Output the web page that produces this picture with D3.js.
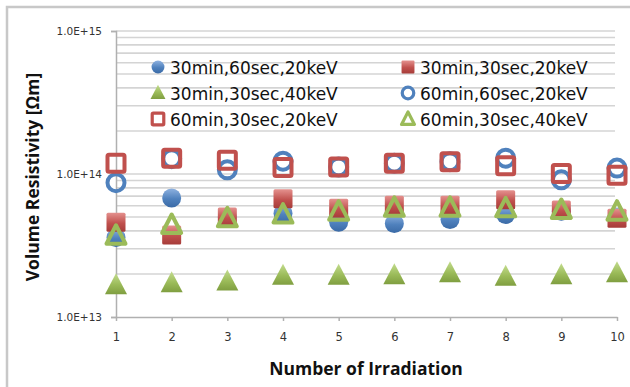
<!DOCTYPE html>
<html>
<head>
<meta charset="utf-8">
<script src="https://cdn.jsdelivr.net/npm/d3@7"></script>
<style>
  html, body { margin: 0; padding: 0; background: #fff; }
  svg { display: block; }
</style>
</head>
<body>
<svg id="chart" width="630" height="387"></svg>
<script>
// Irradiation count on the x axis
const irradiations = [1, 2, 3, 4, 5, 6, 7, 8, 9, 10];

// Volume resistivity [Ωm] per condition
const s30m60s20k = [3.6e13, 6.8e13, 5.0e13, 5.3e13, 4.6e13, 4.5e13, 4.8e13, 5.2e13, 5.5e13, 5.0e13];
const s30m30s20k = [4.6e13, 3.75e13, 5.0e13, 6.7e13, 5.75e13, 6.05e13, 6.05e13, 6.6e13, 5.6e13, 4.9e13];
const s30m30s40k = [1.67e13, 1.72e13, 1.77e13, 1.94e13, 1.94e13, 1.96e13, 2.02e13, 1.91e13, 1.96e13, 2.02e13];
const s60m60s20k = [8.7e13, 1.28e14, 1.07e14, 1.23e14, 1.12e14, 1.19e14, 1.22e14, 1.29e14, 9.1e13, 1.1e14];
const s60m30s20k = [1.19e14, 1.29e14, 1.25e14, 1.11e14, 1.12e14, 1.19e14, 1.22e14, 1.14e14, 1.01e14, 9.8e13];
const s60m30s40k = [3.7e13, 4.4e13, 4.9e13, 5.2e13, 5.45e13, 5.8e13, 5.8e13, 5.75e13, 5.6e13, 5.45e13];

const seriesNames = [
  "30min,60sec,20keV", "30min,30sec,20keV", "30min,30sec,40keV",
  "60min,60sec,20keV", "60min,30sec,20keV", "60min,30sec,40keV"
];
const yTickLabels = ["1.0E+13", "1.0E+14", "1.0E+15"];

const BLUE = "#4f81bd", RED = "#c0504d", GREEN = "#9bbb59";

const series = [
  { name: seriesNames[0], values: s30m60s20k, shape: "circle",   color: BLUE,  filled: true },
  { name: seriesNames[1], values: s30m30s20k, shape: "square",   color: RED,   filled: true },
  { name: seriesNames[2], values: s30m30s40k, shape: "triangle", color: GREEN, filled: true },
  { name: seriesNames[3], values: s60m60s20k, shape: "circle",   color: BLUE,  filled: false },
  { name: seriesNames[4], values: s60m30s20k, shape: "square",   color: RED,   filled: false },
  { name: seriesNames[5], values: s60m30s40k, shape: "triangle", color: GREEN, filled: false }
];

const svg = d3.select("#chart");
const plotL = 116, plotR = 617, plotT = 31, plotB = 317;

const x = d3.scaleLinear().domain([1, 10]).range([plotL, plotR]);
const y = d3.scaleLog().domain([1e13, 1e15]).range([plotB, plotT]);

// outer chart frame
svg.append("rect")
  .attr("x", 7).attr("y", 7).attr("width", 640).attr("height", 400)
  .attr("fill", "none").attr("stroke", "#c8c8c8").attr("stroke-width", 2.5);

// shading for filled markers
const defs = svg.append("defs");
[["gBlue", BLUE, "#8fb2e0", "#3a6aa6"], ["gRed", RED, "#e4918e", "#a63c39"], ["gGreen", GREEN, "#c3dc8e", "#7f9e40"]]
  .forEach(([id, base, light, dark]) => {
    const g = defs.append("linearGradient").attr("id", id)
      .attr("x1", 0).attr("y1", 0).attr("x2", 0).attr("y2", 1);
    g.append("stop").attr("offset", "0%").attr("stop-color", light);
    g.append("stop").attr("offset", "55%").attr("stop-color", base);
    g.append("stop").attr("offset", "100%").attr("stop-color", dark);
  });
const gradFor = { [BLUE]: "url(#gBlue)", [RED]: "url(#gRed)", [GREEN]: "url(#gGreen)" };

// gridlines at every 1..9 × decade
const gridVals = [];
for (let e = 13; e <= 14; e++) for (let m = 1; m <= 9; m++) gridVals.push(m * Math.pow(10, e));
gridVals.push(1e15);
svg.append("g").selectAll("line").data(gridVals.filter(v => v > 1e13)).join("line")
  .attr("x1", plotL).attr("x2", plotR - 2)
  .attr("y1", d => y(d)).attr("y2", d => y(d))
  .attr("stroke", "#d4d4d4").attr("stroke-width", 1.6);

// y axis
const yAxis = d3.axisLeft(y)
  .tickValues([1e13, 1e14, 1e15])
  .tickFormat((d, i) => yTickLabels[i])
  .tickSize(5).tickPadding(9);
const gy = svg.append("g").attr("transform", `translate(${plotL},0)`).call(yAxis);
gy.select(".domain").attr("stroke", "#b0b0b0").attr("stroke-width", 1.5);
gy.selectAll(".tick line").attr("stroke", "#b0b0b0").attr("stroke-width", 1.5);
gy.selectAll("text").attr("font-family", "DejaVu Sans").attr("font-size", 10.5).attr("fill", "#333");

// x axis
const xAxis = d3.axisBottom(x).tickValues(irradiations).tickFormat(d3.format("d"))
  .tickSize(4).tickSizeOuter(0).tickPadding(12);
const gx = svg.append("g").attr("transform", `translate(0,${plotB})`).call(xAxis);
gx.select(".domain").attr("stroke", "#b0b0b0").attr("stroke-width", 1.5);
gx.selectAll(".tick line").attr("stroke", "#b0b0b0").attr("stroke-width", 1.5);
gx.selectAll("text").attr("font-family", "DejaVu Sans").attr("font-size", 11.5).attr("fill", "#333");

// axis titles
svg.append("text")
  .attr("x", 366).attr("y", 375)
  .attr("text-anchor", "middle")
  .attr("font-family", "Open Sans").attr("font-weight", "bold").attr("font-size", 17.5)
  .attr("fill", "#111")
  .text("Number of Irradiation");
svg.append("text")
  .attr("transform", "translate(39,177) rotate(-90)")
  .attr("text-anchor", "middle")
  .attr("font-family", "Open Sans").attr("font-weight", "bold").attr("font-size", 17.5)
  .attr("fill", "#111")
  .text("Volume Resistivity [Ωm]");

// marker drawing
function drawMarker(g, s, cx, cy, scale) {
  const k = scale || 1;
  const fill = s.filled ? gradFor[s.color] : "none";
  const sw = s.filled ? 0 : 4 * Math.max(k, 0.8);
  if (s.shape === "circle") {
    const r = (s.filled ? 9.5 : 8.5) * k;
    g.append("circle").attr("cx", cx).attr("cy", cy).attr("r", r)
      .attr("fill", fill).attr("stroke", s.filled ? "none" : s.color).attr("stroke-width", sw);
  } else if (s.shape === "square") {
    const h = (s.filled ? 9.5 : 8.5) * k;
    g.append("rect").attr("x", cx - h).attr("y", cy - h).attr("width", 2 * h).attr("height", 2 * h)
      .attr("rx", 1.5 * k)
      .attr("fill", fill).attr("stroke", s.filled ? "none" : s.color).attr("stroke-width", sw);
  } else {
    const w = (s.filled ? 11 : 9.5) * k, hTop = (s.filled ? 12 : 10.5) * k, hBot = (s.filled ? 9 : 8) * k;
    const p = [[cx, cy - hTop], [cx + w, cy + hBot], [cx - w, cy + hBot]];
    g.append("path").attr("d", "M" + p.map(q => q.join(",")).join("L") + "Z")
      .attr("fill", fill).attr("stroke", s.filled ? "none" : s.color).attr("stroke-width", sw)
      .attr("stroke-linejoin", "round");
  }
}

// data points
const pts = svg.append("g");
series.forEach(s => {
  s.values.forEach((v, i) => drawMarker(pts, s, x(irradiations[i]), y(v), 1));
});

// legend: 3 rows × 2 columns
const lg = svg.append("g");
series.forEach((s, idx) => {
  const col = idx % 2, row = Math.floor(idx / 2);
  const mx = col === 0 ? 158 : 408, my = 67 + row * 26;
  drawMarker(lg, s, mx, my, 0.68);
  lg.append("text")
    .attr("x", mx + 12).attr("y", my + 6.5)
    .attr("font-family", "DejaVu Sans").attr("font-size", 17).attr("fill", "#111")
    .text(s.name);
});
</script>
</body>
</html>
